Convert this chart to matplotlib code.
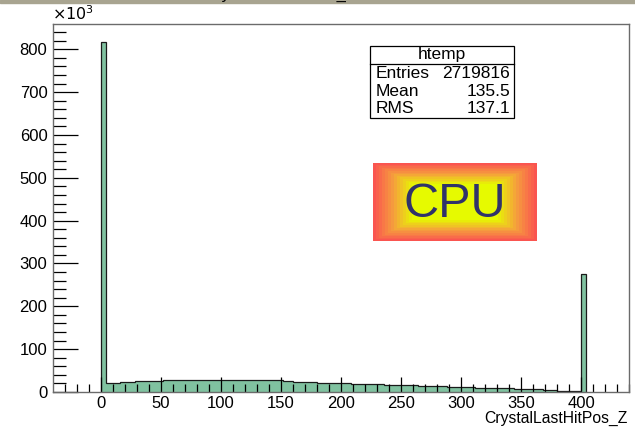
import matplotlib
matplotlib.use('Agg')
import matplotlib.pyplot as plt
from matplotlib.patches import Rectangle
import numpy as np

plt.rcParams['font.family'] = ['Liberation Sans', 'DejaVu Sans']

# histogram: 4-unit bins from 0 to 404, counts in thousands
bin_edges = np.arange(0, 408, 4)
counts_k = [818,
            21.5, 21.5, 22,
            23, 23, 23.5,
            25, 25, 25, 25.5, 25.5, 26,
            27, 27, 27, 27, 27, 27, 27, 27, 27, 27, 27, 27, 27,
            27, 27, 27, 27, 27, 27, 27, 27, 27, 27, 27, 27,
            25, 25, 24.5, 24.5, 24,
            22.5, 22.5, 22, 22, 21.5,
            20.5, 20.5, 20, 20,
            19, 19, 19, 18.5,
            18, 18, 18, 17.5, 17.5, 17, 17, 16.5, 16.5, 16,
            14.5, 14.5, 14, 14, 14, 13.5,
            12, 12, 11.5, 11.5, 11, 11,
            9.5, 9.5, 9, 9, 9, 8.5, 8.5, 8.5,
            6.5, 6.5, 6.5, 6, 6, 6, 5.5, 5.5, 5.5,
            3.5, 3.5, 3.5, 3, 3,
            275]

stat_names = ['Entries', 'Mean', 'RMS']
stat_values = ['2719816', '135.5', '137.1']

W, H = 635, 437
fig = plt.figure(figsize=(W / 100, H / 100), dpi=100)
fig.patch.set_facecolor('white')

# grey strip at the very top (window title bar remnant), title mostly cut off
fig.patches.append(Rectangle((0, 1 - 3 / H), 1, 3 / H, transform=fig.transFigure,
                             color='#a8a490', zorder=0))
fig.text(280 / W, 1 + 1.5 / H, 'CrystalLastHitPos_Z', ha='center', va='baseline',
         fontsize=12, color='black')

ax = fig.add_axes([53 / W, 1 - 392 / H, (629 - 53) / W, (392 - 24) / H])
ax.stairs(counts_k, bin_edges, fill=True, facecolor='#80c2a0', edgecolor='none')
ax.stairs(counts_k, bin_edges, fill=False, edgecolor='#1a1a1a', linewidth=0.9)

ax.set_xlim(-40, 440)
ax.set_ylim(0, 859)

ax.set_xticks(np.arange(0, 401, 50))
ax.set_xticks(np.arange(-30, 441, 10), minor=True)
ax.set_yticks(np.arange(0, 801, 100))
ax.set_yticks(np.arange(0, 860, 20), minor=True)
ax.tick_params(axis='both', which='both', direction='in', colors='black',
               labelsize=12, width=0.9)
ax.tick_params(axis='y', which='major', length=18, pad=4)
ax.tick_params(axis='y', which='minor', length=9)
ax.tick_params(axis='x', which='major', length=11, pad=3)
ax.tick_params(axis='x', which='minor', length=6)
for s in ax.spines.values():
    s.set_color('#6b6b6b')
    s.set_linewidth(1.0)

fig.text(52 / W, 1 - 14 / H, r'$\times10^{3}$', ha='left', va='center', fontsize=11.5)
fig.text(628 / W, 1 - 418.5 / H, 'CrystalLastHitPos_Z', ha='right', va='center',
         fontsize=11.3)

# stats box
bx0, bx1, by0, by1 = 370, 514, 46, 118
fig.patches.append(Rectangle((bx0 / W, 1 - by1 / H), (bx1 - bx0) / W, (by1 - by0) / H,
                             transform=fig.transFigure, facecolor='white',
                             edgecolor='black', linewidth=0.9, zorder=5))
fig.lines.append(plt.Line2D([bx0 / W, bx1 / W], [1 - 63.5 / H, 1 - 63.5 / H],
                            transform=fig.transFigure, color='black', linewidth=0.9,
                            zorder=6))
fig.text((bx0 + bx1) / 2 / W, 1 - 54.5 / H, 'htemp', ha='center', va='center',
         fontsize=12.5, zorder=7)
for i, (nm, val) in enumerate(zip(stat_names, stat_values)):
    yy = 1 - (73.5 + i * 17.5) / H
    fig.text(376 / W, yy, nm, ha='left', va='center', fontsize=12.5, zorder=7)
    fig.text(510 / W, yy, val, ha='right', va='center', fontsize=12.5, zorder=7)

# CPU badge: concentric rectangles from red to yellow
cx0, cx1, cy0, cy1 = 373, 537, 163, 241
outer = np.array([250, 85, 80]) / 255
mid = np.array([245, 160, 60]) / 255
inner = np.array([230, 250, 0]) / 255
n = 14
for k in range(n):
    t = k / (n - 1)
    if t < 0.5:
        c = outer + (mid - outer) * (t / 0.5)
    else:
        c = mid + (inner - mid) * ((t - 0.5) / 0.5)
    dx = k * 3.0
    dy = k * 1.6
    fig.patches.append(Rectangle(((cx0 + dx) / W, 1 - (cy1 - dy) / H),
                                 (cx1 - cx0 - 2 * dx) / W, (cy1 - cy0 - 2 * dy) / H,
                                 transform=fig.transFigure, facecolor=c,
                                 edgecolor='none', zorder=5 + k * 0.01))
fig.text((cx0 + cx1) / 2 / W, 1 - 205 / H, 'CPU', ha='center', va='center',
         fontsize=35, color='#30336a', zorder=8)

fig.savefig('out.png', dpi=100)
